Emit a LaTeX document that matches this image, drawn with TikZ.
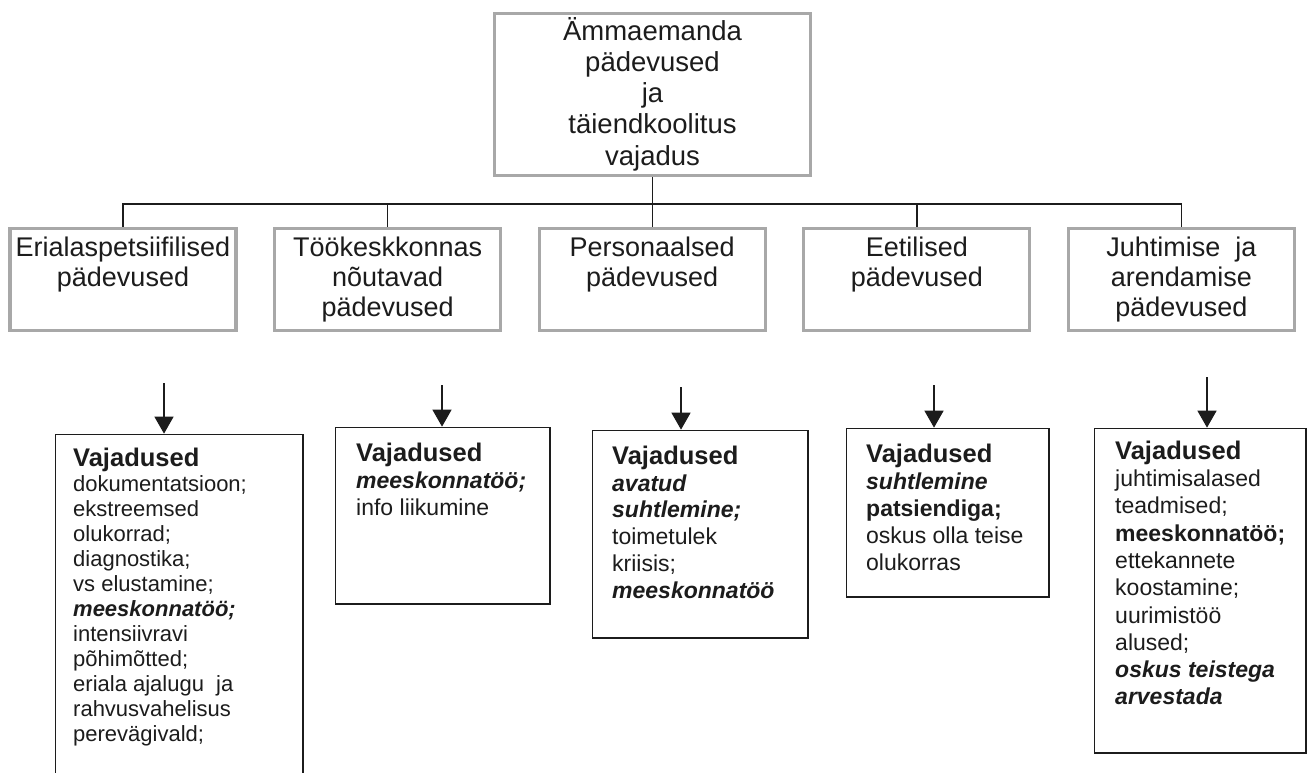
\documentclass[tikz,border=0pt]{standalone}
\usepackage{fontspec}
\setmainfont{Liberation Sans}
\usetikzlibrary{arrows.meta}
\definecolor{boxgray}{RGB}{168,168,168}
\definecolor{ink}{RGB}{28,28,28}
\newcommand{\firstln}{\rule{0pt}{1em}}
\newcommand{\vhead}{{\fontsize{25.5}{26}\selectfont\bfseries\firstln Vajadused}}
\begin{document}
\begin{tikzpicture}[x=1pt,y=-1pt,
  graybox/.style={draw=boxgray,line width=3.3pt,inner sep=0pt,minimum width=226pt,minimum height=102pt},
  needbox/.style={draw=ink,line width=1.3pt,inner sep=0pt,anchor=north west},
  toptxt/.style={text=ink,inner sep=0pt,anchor=north,align=center,font=\fontsize{27.5}{31.25}\selectfont},
  rowtxt/.style={text=ink,inner sep=0pt,anchor=north,align=center,font=\fontsize{27}{30}\selectfont},
  needtxt/.style={text=ink,inner sep=0pt,anchor=north west,align=left,font=\fontsize{23}{26.8}\selectfont},
  conn/.style={draw=ink,line width=1.4pt},
  arr/.style={draw=ink,line width=1.5pt,-{Triangle[width=19pt,length=17pt]}}]
\useasboundingbox (0,0) rectangle (1309,773);
\clip (0,0) rectangle (1309,773);
\fill[white] (0,0) rectangle (1309,773);

% top box
\node[graybox,minimum width=316pt,minimum height=162pt] (top) at (652.5,94.5) {};
\node[toptxt] (toptext) at (652.5,12.5) {\firstln Ämmaemanda\\pädevused\\ja\\täiendkoolitus\\vajadus};

% second row
\node[graybox] (c1) at (123,279.5) {};
\node[graybox] (c2) at (387.6,279.5) {};
\node[graybox] (c3) at (652.2,279.5) {};
\node[graybox] (c4) at (916.8,279.5) {};
\node[graybox] (c5) at (1181.4,279.5) {};
\node[rowtxt] (t1) at (123,229.7) {\firstln Erialaspetsiifilised\\pädevused};
\node[rowtxt] (t2) at (387.6,229.7) {\firstln Töökeskkonnas\\nõutavad\\pädevused};
\node[rowtxt] (t3) at (652.2,229.7) {\firstln Personaalsed\\pädevused};
\node[rowtxt] (t4) at (916.8,229.7) {\firstln Eetilised\\pädevused};
\node[rowtxt] (t5) at (1181.4,229.7) {\firstln Juhtimise \ ja\\arendamise\\pädevused};

\coordinate (bus) at (652.5,204);
\draw[conn] (top.south) -- (bus);
\foreach \b in {c1,c2,c3,c4,c5} \draw[conn] (bus) -| (\b.north);

% third row
\node[needbox,minimum width=247.7pt,minimum height=366pt] (n1) at (54.65,433.65) {};
\node[needbox,minimum width=214.7pt,minimum height=176.7pt] (n2) at (334.65,426.65) {};
\node[needbox,minimum width=215.7pt,minimum height=207.7pt] (n3) at (591.65,429.65) {};
\node[needbox,minimum width=202.7pt,minimum height=168.7pt] (n4) at (845.65,427.65) {};
\node[needbox,minimum width=211.7pt,minimum height=324.7pt] (n5) at (1093.65,427.65) {};

\node[needtxt,font=\fontsize{22}{25}\selectfont] (x1) at (73,441.2) {\vhead\\dokumentatsioon;\\ekstreemsed\\olukorrad;\\diagnostika;\\vs elustamine;\\{\bfseries\itshape meeskonnatöö;}\\intensiivravi\\põhimõtted;\\eriala ajalugu \ ja\\rahvusvahelisus\\perevägivald;};
\node[needtxt] (x2) at (356,436) {\vhead\\{\bfseries\itshape meeskonnatöö;}\\info liikumine};
\node[needtxt] (x3) at (612,438.5) {\vhead\\{\bfseries\itshape avatud}\\{\bfseries\itshape suhtlemine;}\\toimetulek\\kriisis;\\{\bfseries\itshape meeskonnatöö}};
\node[needtxt] (x4) at (866,437.2) {\vhead\\{\bfseries\itshape suhtlemine}\\{\bfseries patsiendiga;}\\oskus olla teise\\olukorras};
\node[needtxt,font=\fontsize{23}{27.3}\selectfont] (x5) at (1115,433.5) {\vhead\\juhtimisalased\\teadmised;\\{\bfseries meeskonnatöö;}\\ettekannete\\koostamine;\\uurimistöö\\alused;\\{\bfseries\itshape oskus teistega}\\{\bfseries\itshape arvestada}};

\coordinate (a1) at (164,383);
\coordinate (a2) at (442,385);
\coordinate (a3) at (681,387);
\coordinate (a4) at (934,385);
\coordinate (a5) at (1207,377);
\draw[arr] (a1) -- (a1 |- n1.north);
\draw[arr] (a2) -- (a2 |- n2.north);
\draw[arr] (a3) -- (a3 |- n3.north);
\draw[arr] (a4) -- (a4 |- n4.north);
\draw[arr] (a5) -- (a5 |- n5.north);
\end{tikzpicture}
\end{document}
